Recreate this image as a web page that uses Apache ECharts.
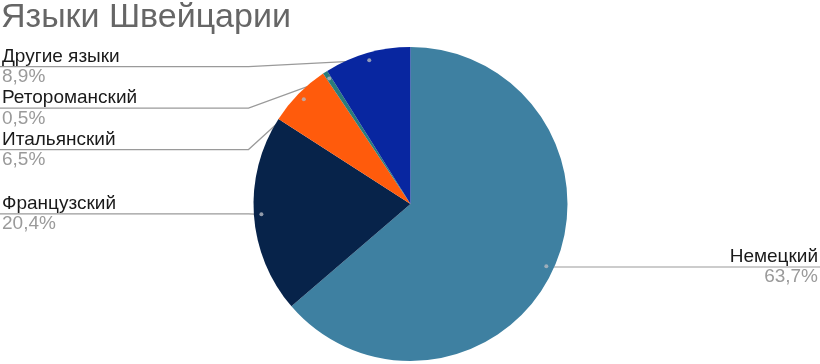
<!DOCTYPE html>
<html>
<head>
<meta charset="utf-8">
<script src="https://cdn.jsdelivr.net/npm/echarts@6/dist/echarts.min.js"></script>
<style>
  html, body { margin: 0; padding: 0; background: #fff; }
  #chart { width: 820px; height: 364px; }
</style>
</head>
<body>
<div id="chart"></div>
<script>
const titleText = 'Языки Швейцарии';
const categories = ['Немецкий', 'Французский', 'Итальянский', 'Ретороманский', 'Другие языки'];
const shares = [63.7, 20.4, 6.5, 0.5, 8.9];
const sliceColors = ['#3e80a1', '#07234a', '#ff5b0c', '#2a7c7a', '#0826a0'];

const FONT = '"Liberation Sans", Arial, sans-serif';
const PIE_CENTER = [410.5, 204];
const PIE_RADIUS = 157;
const DOT_RATIO = 0.952;          // leader lines start a little inside the slice
const LINE_LENGTH_DEFAULT = -14;
const LINE_LENGTH_RIGHT = -6;

const total = shares.reduce(function (a, b) { return a + b; }, 0);
// anchor dots at the middle of each slice (polar coords: [radius, angle])
const dotData = [];
(function () {
  let acc = 0;
  for (let i = 0; i < shares.length; i++) {
    dotData.push([DOT_RATIO, acc + shares[i] / 2]);
    acc += shares[i];
  }
})();

const chart = echarts.init(document.getElementById('chart'), null, { renderer: 'canvas' });

const option = {
  animation: false,
  backgroundColor: '#ffffff',
  title: {
    text: titleText,
    left: 1,
    top: 1,
    padding: 0,
    textStyle: { fontFamily: FONT, fontSize: 34, fontWeight: 'normal', color: '#666666' }
  },
  polar: { center: PIE_CENTER, radius: PIE_RADIUS },
  angleAxis: { type: 'value', min: 0, max: total, startAngle: 90, clockwise: true, show: false },
  radiusAxis: { type: 'value', min: 0, max: 1, show: false },
  series: [{
    type: 'pie',
    center: PIE_CENTER,
    radius: PIE_RADIUS,
    startAngle: 90,
    clockwise: true,
    color: sliceColors,
    itemStyle: { borderWidth: 0 },
    label: {
      show: true,
      position: 'outer',
      alignTo: 'edge',
      edgeDistance: 2,
      width: 200,
      overflow: 'none',
      distanceToLabelLine: -200,
      fontFamily: FONT,
      formatter: function (p) {
        return '{n|' + p.name + '}\n{p|' + String(p.value).replace('.', ',') + '%}';
      },
      rich: {
        n: { fontFamily: FONT, fontSize: 19, color: '#1a1a1a', lineHeight: 20.5 },
        p: { fontFamily: FONT, fontSize: 19, color: '#9a9a9a', lineHeight: 20.5 }
      }
    },
    labelLine: {
      show: true,
      length: LINE_LENGTH_DEFAULT,
      length2: 0,
      minTurnAngle: 0,
      maxSurfaceAngle: 180,
      lineStyle: { color: '#9a9a9a', width: 1.2 }
    },
    labelLayout: function (params) {
      const pts = params.labelLinePoints;
      if (!pts || pts.length < 3) return {};
      const cx = PIE_CENTER[0], cy = PIE_CENTER[1];
      const p0 = pts[0], p1 = pts[1], p2 = pts[2];
      const isLeft = p2[0] < cx;
      const q0 = [cx + (p0[0] - cx) * DOT_RATIO, cy + (p0[1] - cy) * DOT_RATIO];
      const turnX = isLeft ? Math.min(p1[0], cx - PIE_RADIUS - 5) : p1[0];
      return { labelLinePoints: [q0, [turnX, p1[1]], [p2[0], p2[1]]] };
    },
    emphasis: { disabled: true },
    data: categories.map(function (name, i) {
      const item = { name: name, value: shares[i] };
      if (i === 0) item.labelLine = { length: LINE_LENGTH_RIGHT };
      return item;
    })
  }, {
    type: 'scatter',
    coordinateSystem: 'polar',
    symbol: 'circle',
    symbolSize: 4,
    silent: true,
    itemStyle: { color: '#b4b8c0' },
    z: 5,
    data: dotData
  }]
};

chart.setOption(option);
</script>
</body>
</html>
